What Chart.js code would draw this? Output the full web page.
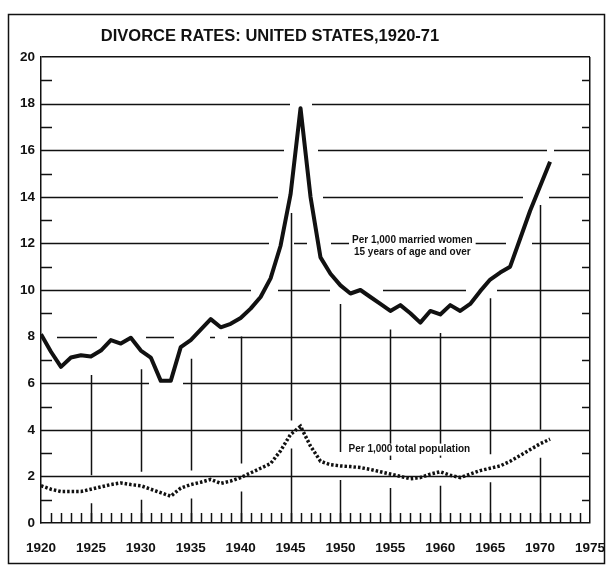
<!DOCTYPE html>
<html>
<head>
<meta charset="utf-8">
<script src="https://cdn.jsdelivr.net/npm/chart.js@4.4.1/dist/chart.umd.min.js"></script>
<style>
  html, body { margin: 0; padding: 0; background: #fff; }
  canvas { display: block; }
</style>
</head>
<body>
<canvas id="divorceChart" width="607" height="566"></canvas>
<script>
// years on the x axis
const years = [
  1920, 1921, 1922, 1923, 1924, 1925, 1926, 1927, 1928, 1929,
  1930, 1931, 1932, 1933, 1934, 1935, 1936, 1937, 1938, 1939,
  1940, 1941, 1942, 1943, 1944, 1945, 1946, 1947, 1948, 1949,
  1950, 1951, 1952, 1953, 1954, 1955, 1956, 1957, 1958, 1959,
  1960, 1961, 1962, 1963, 1964, 1965, 1966, 1967, 1968, 1969,
  1970, 1971
];

// per 1,000 married women 15 years of age and over (solid line)
const perMarriedWomen = [
  8.1, 7.35, 6.7, 7.1, 7.2, 7.15, 7.4, 7.85, 7.7, 7.95,
  7.4, 7.1, 6.1, 6.1, 7.55, 7.85, 8.3, 8.75, 8.4, 8.55,
  8.8, 9.2, 9.7, 10.5, 11.9, 14.1, 17.8, 14.0, 11.4, 10.7,
  10.2, 9.85, 10.0, 9.7, 9.4, 9.1, 9.35, 9.0, 8.6, 9.1,
  8.95, 9.35, 9.1, 9.4, 9.95, 10.45, 10.75, 11.0, 12.2, 13.4,
  14.45, 15.5
];

// per 1,000 total population (dotted line)
const perPopulation = [
  1.6, 1.45, 1.35, 1.35, 1.35, 1.45, 1.55, 1.65, 1.72, 1.65,
  1.6, 1.45, 1.3, 1.15, 1.5, 1.65, 1.75, 1.87, 1.7, 1.8,
  1.95, 2.15, 2.35, 2.55, 3.1, 3.8, 4.15, 3.3, 2.65, 2.5,
  2.45, 2.42, 2.38, 2.3, 2.2, 2.1, 2.0, 1.9, 1.95, 2.1,
  2.2, 2.05, 1.95, 2.1, 2.25, 2.35, 2.45, 2.65, 2.9, 3.15,
  3.4, 3.6
];

const yearTicks = [1920, 1925, 1930, 1935, 1940, 1945, 1950, 1955, 1960, 1965, 1970, 1975];
const rateTicks = [0, 2, 4, 6, 8, 10, 12, 14, 16, 18, 20];
const chartTitle = 'DIVORCE RATES: UNITED STATES,1920-71';

const ink = '#111';
const labelFont = { family: 'Liberation Sans', size: 13.5, weight: 'bold' };
const clearance = 12; // px of white left round the solid curve, like the print

// distance from a pixel to a polyline
function distToLine(px, py, pts) {
  let best = Infinity;
  for (let i = 1; i < pts.length; i++) {
    const [x1, y1] = pts[i - 1], [x2, y2] = pts[i];
    const dx = x2 - x1, dy = y2 - y1;
    let t = ((px - x1) * dx + (py - y1) * dy) / (dx * dx + dy * dy);
    t = Math.max(0, Math.min(1, t));
    const d = Math.hypot(px - (x1 + t * dx), py - (y1 + t * dy));
    if (d < best) best = d;
  }
  return best;
}

// outer frame, title, broken grid, inward ticks and the two captions
const decorations = {
  id: 'decorations',
  beforeDatasetsDraw(chart) {
    const ctx = chart.ctx;
    const xs = chart.scales.x, ys = chart.scales.y;
    const area = chart.chartArea;
    const pts = years.map((yr, i) => [xs.getPixelForValue(yr), ys.getPixelForValue(perMarriedWomen[i])]);
    ctx.save();
    ctx.strokeStyle = ink;
    ctx.lineWidth = 1.5;
    // horizontal rules that stop short of the solid curve
    rateTicks.forEach(v => {
      if (v === 0 || v === 20) return;
      const y = Math.round(ys.getPixelForValue(v)) + 0.5;
      ctx.beginPath();
      let start = null;
      for (let x = area.left; x <= area.right; x++) {
        const open = distToLine(x, y, pts) > clearance;
        if (open && start === null) start = x;
        if ((!open || x === area.right) && start !== null) {
          ctx.moveTo(start, y);
          ctx.lineTo(x, y);
          start = null;
        }
      }
      ctx.stroke();
    });
    // vertical guides every 5 years, kept under the curve, broken round the dotted line
    yearTicks.forEach(yr => {
      const i = years.indexOf(yr);
      if (yr === 1920 || i < 0) return;
      const x = Math.round(xs.getPixelForValue(yr)) + 0.5;
      const top = perMarriedWomen[i] - 0.8;
      const gapLo = perPopulation[i] - 0.6, gapHi = perPopulation[i] + 0.6;
      ctx.beginPath();
      ctx.moveTo(x, ys.getPixelForValue(0));
      ctx.lineTo(x, ys.getPixelForValue(gapLo));
      ctx.moveTo(x, ys.getPixelForValue(gapHi));
      ctx.lineTo(x, ys.getPixelForValue(top));
      ctx.stroke();
    });
    ctx.restore();
  },
  afterDatasetsDraw(chart) {
    const ctx = chart.ctx;
    const xs = chart.scales.x, ys = chart.scales.y;
    const area = chart.chartArea;
    ctx.save();
    ctx.strokeStyle = ink;
    ctx.lineWidth = 1.5;
    // small ticks at odd values on both sides
    for (let v = 1; v < 20; v += 2) {
      const y = Math.round(ys.getPixelForValue(v)) + 0.5;
      ctx.beginPath();
      ctx.moveTo(area.left, y); ctx.lineTo(area.left + 11, y);
      ctx.moveTo(area.right - 8, y); ctx.lineTo(area.right, y);
      ctx.stroke();
    }
    // yearly ticks along the bottom
    for (let yr = 1921; yr < 1975; yr++) {
      const x = Math.round(xs.getPixelForValue(yr)) + 0.5;
      ctx.beginPath();
      ctx.moveTo(x, area.bottom);
      ctx.lineTo(x, area.bottom - 10);
      ctx.stroke();
    }
    // captions
    ctx.font = 'bold 10px "Liberation Sans"';
    ctx.textAlign = 'center';
    ctx.textBaseline = 'middle';
    const captions = [
      ['Per 1,000 married women', 1957.2, 12.15],
      ['15 years of age and over', 1957.2, 11.6],
      ['Per 1,000 total population', 1956.9, 3.15]
    ];
    captions.forEach(([text, xv, yv]) => {
      const x = xs.getPixelForValue(xv), y = ys.getPixelForValue(yv);
      const w = ctx.measureText(text).width;
      ctx.fillStyle = '#fff';
      ctx.fillRect(x - w / 2 - 3, y - 6, w + 6, 12);
      ctx.fillStyle = ink;
      ctx.fillText(text, x, y);
    });
    // title, sitting a little left of centre as in the print
    ctx.font = 'bold 16.5px "Liberation Sans"';
    ctx.fillText(chartTitle, 270, 36);
    // outer frame
    ctx.lineWidth = 1.5;
    ctx.strokeRect(8.5, 14.5, chart.width - 11, chart.height - 17);
    ctx.restore();
  }
};

const ctx = document.getElementById('divorceChart').getContext('2d');
new Chart(ctx, {
  type: 'line',
  data: {
    datasets: [{
      label: 'Per 1,000 married women 15 years of age and over',
      data: years.map((yr, i) => ({ x: yr, y: perMarriedWomen[i] })),
      borderColor: ink,
      borderWidth: 4,
      pointRadius: 0,
      tension: 0,
      borderJoinStyle: 'round'
    }, {
      label: 'Per 1,000 total population',
      data: years.map((yr, i) => ({ x: yr, y: perPopulation[i] })),
      borderColor: ink,
      borderWidth: 3.5,
      borderDash: [2.5, 2],
      borderCapStyle: 'butt',
      pointRadius: 0,
      tension: 0
    }]
  },
  options: {
    responsive: false,
    animation: false,
    layout: { padding: { left: 0, right: 17, top: 57, bottom: 0 } },
    plugins: {
      legend: { display: false },
      tooltip: { enabled: false },
      title: { display: false }
    },
    scales: {
      x: {
        type: 'linear',
        min: 1920,
        max: 1975,
        afterFit: scale => {
          scale.height = 43;
          scale.paddingLeft = 0;
          scale.paddingRight = 0;
        },
        afterBuildTicks: scale => { scale.ticks = yearTicks.map(v => ({ value: v })); },
        ticks: {
          color: ink,
          font: labelFont,
          padding: 17,
          maxRotation: 0,
          callback: v => String(v)
        },
        grid: {
          drawTicks: false,
          color: c => (c.tick && c.tick.value === 1975 ? ink : 'rgba(0,0,0,0)'),
          lineWidth: 1.5
        },
        border: { display: true, color: ink, width: 1.5 }
      },
      y: {
        min: 0,
        max: 20,
        afterFit: scale => {
          scale.width = 41;
          scale.paddingTop = 0;
          scale.paddingBottom = 0;
        },
        afterBuildTicks: scale => { scale.ticks = rateTicks.map(v => ({ value: v })); },
        ticks: {
          color: ink,
          font: labelFont,
          padding: 6
        },
        grid: {
          drawTicks: false,
          // only the top rule comes from the grid; the inner rules are drawn broken by the plugin
          color: c => (c.tick && c.tick.value === 20 ? ink : 'rgba(0,0,0,0)'),
          lineWidth: 1.5
        },
        border: { display: true, color: ink, width: 1.5 }
      }
    }
  },
  plugins: [decorations]
});
</script>
</body>
</html>
